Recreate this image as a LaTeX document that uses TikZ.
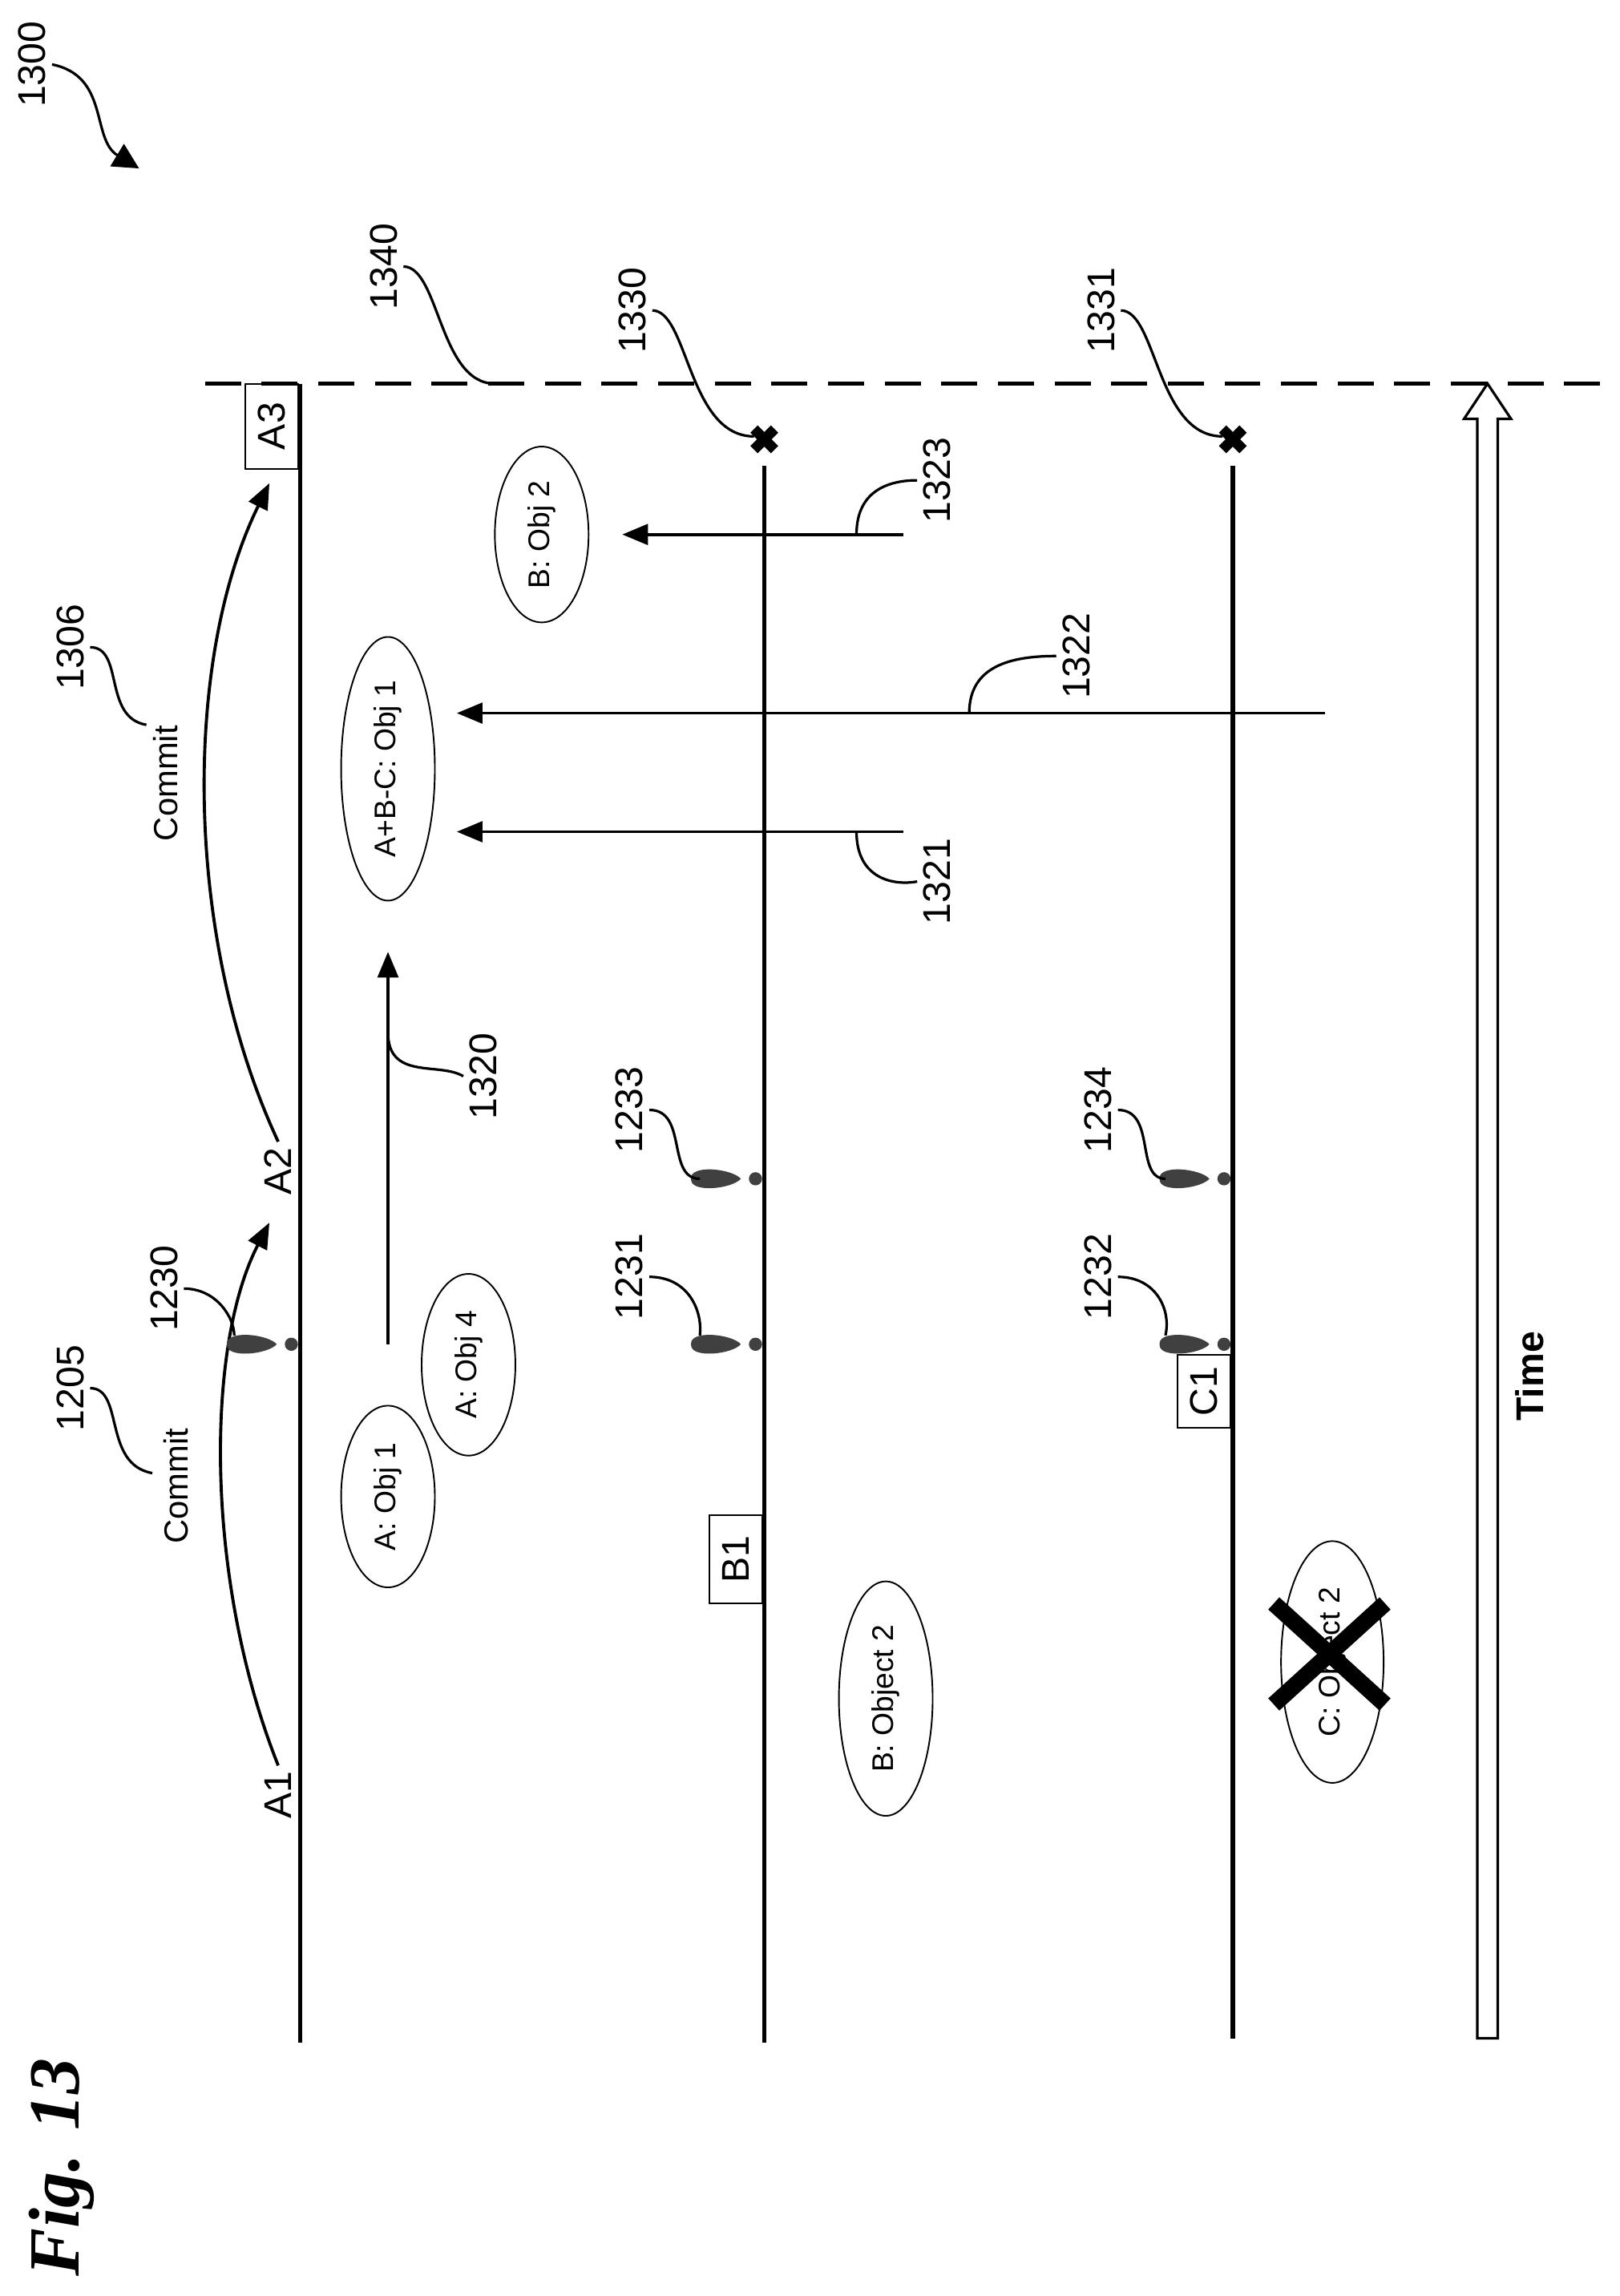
\documentclass[tikz,border=0pt]{standalone}
\usepackage{fontspec}
\setmainfont{Liberation Sans}
\newfontfamily\figfont{Liberation Serif}
\usetikzlibrary{shapes.geometric,arrows.meta}

% pixel grid of the sheet, y pointing down
\tikzset{
  x=0.01cm, y=-0.01cm,
  tline/.style={line width=0.8pt},
  num/.style={rotate=90, inner sep=1pt, font=\fontsize{7.5}{8}\selectfont},
  lbl/.style={rotate=90, inner sep=1pt, font=\fontsize{7.5}{8}\selectfont},
  box/.style={rotate=90, draw, line width=0.3pt, inner sep=2pt, minimum height=0.36cm, font=\fontsize{7.5}{8}\selectfont},
  obj/.style={rotate=90, ellipse, draw, line width=0.3pt, inner sep=0pt, minimum height=0.64cm, font=\fontsize{5.8}{6}\selectfont},
  lead/.style={line width=0.5pt},
  msg/.style={line width=0.6pt, -{Triangle[length=5pt,width=4pt]}},
}
\newcommand{\lockmark}[2]{%
  \fill[black!75] (#1-50,#2) .. controls (#1-51,#2-10) and (#1-22,#2-7) .. (#1-16,#2)
    .. controls (#1-22,#2+7) and (#1-51,#2+10) .. cycle;
  \fill[black!75] (#1-6,#2) circle (0.045cm);}

\begin{document}
\begin{tikzpicture}
\useasboundingbox (0,0) rectangle (1106,1568);

% figure number
\node[rotate=90, font=\figfont\bfseries\itshape\fontsize{14}{15}\selectfont] (fig) at (42,1480) {Fig. 13};
\node[num] (n1300) at (22,44) {1300};
\draw[lead, -{Triangle[length=5pt,width=5pt]}] (n1300.south) .. controls (75,52) and (62,95) .. (95,115);

% time lines
\coordinate (aS) at (205,262); \coordinate (aE) at (205,1395);
\coordinate (bS) at (522,318); \coordinate (bE) at (522,1395);
\coordinate (cS) at (842,318); \coordinate (cE) at (842,1392);
\draw[tline] (aS) -- (aE);
\draw[tline] (bS) -- (bE);
\draw[tline] (cS) -- (cE);

% end marks
\draw[line width=2pt] (515,293) -- (529,307) (515,307) -- (529,293);
\draw[line width=2pt] (835,293) -- (849,307) (835,307) -- (849,293);
\coordinate (x1) at (515,298); \coordinate (x2) at (835,298);

% dashed line
\coordinate (dS) at (140,262); \coordinate (dE) at (1106,262);
\draw[dashed, line width=0.7pt, dash pattern=on 7pt off 4pt] (dS) -- (dE);

% time arrow
\draw[line width=0.5pt, fill=white] (1009,1392) -- (1009,286) -- (1000,286) -- (1016,262)
  -- (1032,286) -- (1023,286) -- (1023,1392) -- cycle;
\node[rotate=90, font=\bfseries\fontsize{7.5}{8}\selectfont] (time) at (1045,940) {Time};

% boxes
\node[box, anchor=south, minimum width=0.58cm] (a3) at (204,291) {A3};
\node[box, anchor=south, minimum width=0.60cm] (b1) at (521,1065) {B1};
\node[box, anchor=south, minimum width=0.50cm] (c1) at (841,950) {C1};

% commits on A
\node[lbl] (a1) at (190,1226) {A1};
\node[lbl] (a2) at (190,800) {A2};
\draw[line width=0.6pt, -{Triangle[length=5pt,width=4pt]}] (a1.east) .. controls (140,1080) and (140,920) .. (184,835);
\draw[line width=0.6pt, -{Triangle[length=5pt,width=4pt]}] (a2.east) .. controls (125,640) and (125,450) .. (184,330);
\node[rotate=90, font=\fontsize{6.5}{7}\selectfont] (cm1) at (120,1015) {Commit};
\node[rotate=90, font=\fontsize{6.5}{7}\selectfont] (cm2) at (113,535) {Commit};
\node[num] (n1205) at (48,948) {1205};
\draw[lead] (n1205.south) .. controls (85,948) and (70,1000) .. (104,1006);
\node[num] (n1306) at (48,442) {1306};
\draw[lead] (n1306.south) .. controls (85,442) and (70,490) .. (100,495);

% objects
\node[obj, minimum width=1.24cm] (o1) at (265,1022) {A: Obj 1};
\node[obj, minimum width=1.24cm] (o4) at (320,932) {A: Obj 4};
\node[obj, minimum width=1.80cm] (oABC) at (265,525) {A+B-C: Obj 1};
\node[obj, minimum width=1.20cm] (oB2) at (370,365) {B: Obj 2};
\node[obj, minimum width=1.60cm] (oBo2) at (605,1160) {B: Object 2};
\node[obj, minimum width=1.65cm, minimum height=0.70cm] (oCo2) at (910,1135) {C: Object 2};
\draw[line width=3.2pt] (870,1095) -- (946,1164) (946,1095) -- (870,1164);

% locks
\lockmark{205}{918}
\lockmark{522}{918}
\lockmark{522}{805}
\lockmark{842}{918}
\lockmark{842}{805}
\node[num] (n1230) at (112,880) {1230};
\draw[lead] (n1230.south) .. controls (148,880) and (160,900) .. (160,912);
\node[num] (n1231) at (430,872) {1231};
\draw[lead] (n1231.south) .. controls (470,872) and (480,895) .. (478,912);
\node[num] (n1233) at (430,758) {1233};
\draw[lead] (n1233.south) .. controls (470,758) and (455,805) .. (478,805);
\node[num] (n1232) at (750,872) {1232};
\draw[lead] (n1232.south) .. controls (790,872) and (800,895) .. (796,912);
\node[num] (n1234) at (750,758) {1234};
\draw[lead] (n1234.south) .. controls (790,758) and (775,805) .. (796,805);

% messages
\coordinate (m0s) at (265,918); \coordinate (m0e) at (265,650);
\draw[msg] (m0s) -- (m0e);
\coordinate (m1s) at (617,568); \coordinate (m1e) at (312,568);
\draw[msg] (m1s) -- (m1e);
\coordinate (m2s) at (905,487); \coordinate (m2e) at (312,487);
\draw[msg] (m2s) -- (m2e);
\coordinate (m3s) at (617,365); \coordinate (m3e) at (425,365);
\draw[msg] (m3s) -- (m3e);
\node[num] (n1320) at (330,735) {1320};
\draw[lead] (265,705) .. controls (265,738) and (300,725) .. (n1320.north);
\node[num] (n1321) at (640,602) {1321};
\draw[lead] (585,568) .. controls (585,600) and (610,605) .. (n1321.north);
\node[num] (n1322) at (735,448) {1322};
\draw[lead] (662,487) .. controls (662,455) and (690,448) .. (n1322.north);
\node[num] (n1323) at (640,328) {1323};
\draw[lead] (585,365) .. controls (585,333) and (610,328) .. (n1323.north);

% top leaders
\node[num] (n1340) at (262,182) {1340};
\draw[lead] (n1340.south) .. controls (300,182) and (300,262) .. (338,262);
\node[num] (n1330) at (432,212) {1330};
\draw[lead] (n1330.south) .. controls (470,212) and (470,298) .. (x1);
\node[num] (n1331) at (752,212) {1331};
\draw[lead] (n1331.south) .. controls (790,212) and (790,298) .. (x2);
\end{tikzpicture}
\end{document}
